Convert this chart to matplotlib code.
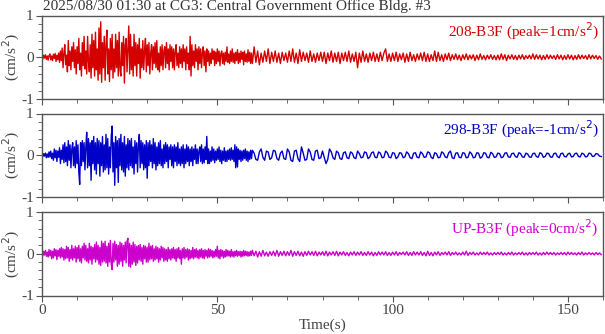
import matplotlib
matplotlib.use("Agg")
import matplotlib.pyplot as plt
import numpy as np

# sample steps of the traces (s): fine during the strong shaking, coarser after
dt_early = 0.25   # 0 - 60 s
dt_late = 0.5     # 60 - 160 s
t_split = 60

title = "2025/08/30 01:30 at CG3: Central Government Office Bldg. #3"
channels = ["208-B3F", "298-B3F", "UP-B3F"]
peaks = ["1", "-1", "0"]
colors = ["#d40000", "#0000c8", "#cc00cc"]

# acceleration (cm/s^2)
acc_208_early = [
    0.02, -0.04, 0.05, -0.02, 0.06, -0.05, 0.03, -0.07, 0.04, 0.08,
    -0.06, 0.03, -0.08, 0.07, -0.03, 0.09, -0.10, 0.05, -0.06, 0.10,
    -0.12, 0.15, -0.08, 0.22, -0.25, 0.10, 0.30, -0.18, 0.05, -0.35,
    0.40, -0.20, 0.15, -0.30, 0.25, -0.10, 0.35, -0.25, 0.18, -0.40,
    0.25, -0.15, 0.45, -0.30, 0.10, -0.45, 0.35, -0.20, 0.50, -0.28,
    0.15, -0.40, 0.50, -0.10, -0.35, 0.30, -0.50, 0.55, -0.25, 0.40,
    -0.45, 0.60, -0.30, 0.20, -0.55, 0.70, -0.40, 0.85, -0.60, 0.35,
    -0.25, 0.50, -0.55, 0.30, 0.65, -0.40, 0.20, -0.58, 0.45, -0.30,
    0.55, -0.50, 0.20, -0.35, 0.55, -0.25, 0.40, -0.45, 0.60, -0.30,
    -0.45, 0.35, -0.20, 0.50, -0.62, 0.30, 0.45, -0.35, 0.20, 0.75,
    -0.40, 0.55, -0.30, 0.25, -0.45, 0.55, -0.20, 0.35, -0.45, 0.30,
    -0.15, 0.45, -0.50, 0.20, -0.25, 0.40, -0.30, 0.15, 0.45, -0.35,
    0.30, -0.20, 0.35, -0.40, 0.10, 0.30, -0.30, 0.25, -0.15, 0.35,
    -0.25, 0.40, -0.30, 0.10, -0.35, 0.25, -0.20, 0.30, -0.30, 0.15,
    0.25, -0.25, 0.35, -0.15, 0.20, -0.30, 0.30, -0.10, 0.25, -0.25,
    0.20, -0.30, 0.15, 0.30, -0.20, 0.10, -0.25, 0.25, -0.15, 0.20,
    -0.25, 0.30, -0.10, 0.20, -0.30, 0.25, -0.15, 0.10, -0.30, 0.50,
    -0.45, 0.30, -0.20, 0.15, -0.25, 0.30, -0.10, 0.20, -0.30, 0.25,
    -0.15, 0.20, -0.25, 0.10, 0.25, -0.20, 0.15, -0.35, 0.20, -0.10,
    0.15, -0.20, 0.10, -0.15, 0.20, -0.05, 0.15, -0.20, 0.12, -0.15,
    0.20, -0.10, 0.15, -0.20, 0.08, 0.15, -0.15, 0.10, -0.18, 0.12,
    -0.10, 0.25, -0.12, 0.08, -0.15, 0.15, -0.10, 0.20, -0.12, 0.10,
    -0.15, 0.12, -0.08, 0.18, -0.15, 0.10, -0.12, 0.15, -0.05, 0.12,
    -0.18, 0.15, -0.10, 0.08, -0.12, 0.18, -0.10, 0.12, -0.15, 0.10,
]
acc_208_late = [
    -0.15, 0.25, -0.12, 0.15, -0.18, 0.10, -0.12, 0.15, -0.10, 0.20, -0.15, 0.12, -0.10, 0.15, -0.12, 0.10, -0.15, 0.12, -0.08, 0.10,
    -0.12, 0.15, -0.10, 0.20, -0.12, 0.10, -0.15, 0.18, -0.10, 0.12, -0.08, 0.10, -0.12, 0.15, -0.10, 0.08, -0.12, 0.10, -0.08, 0.12,
    -0.10, 0.12, -0.15, 0.10, -0.08, 0.15, -0.12, 0.10, -0.10, 0.12, -0.15, 0.10, -0.08, 0.12, -0.10, 0.15, -0.12, 0.08, -0.10, 0.12,
    -0.25, 0.10, -0.12, 0.15, -0.10, 0.08, -0.12, 0.10, -0.08, 0.12, -0.10, 0.08, -0.10, 0.12, -0.08, 0.10, 0.20, -0.10, 0.08, -0.10,
    0.10, -0.08, 0.12, -0.10, 0.08, -0.06, 0.10, -0.12, 0.08, -0.10, 0.12, -0.08, 0.06, -0.10, 0.08, -0.06, 0.10, -0.08, 0.12, -0.10,
    0.08, -0.10, 0.06, -0.08, 0.15, -0.10, 0.12, -0.08, 0.06, -0.10, 0.08, -0.06, 0.10, -0.08, 0.06, -0.05, 0.08, -0.06, 0.05, -0.08,
    0.06, -0.05, 0.08, -0.06, 0.05, -0.04, 0.06, -0.08, 0.05, -0.06, 0.08, -0.05, 0.04, -0.06, 0.05, -0.04, 0.06, -0.05, 0.04, -0.06,
    0.05, -0.06, 0.08, -0.05, 0.06, -0.08, 0.05, -0.04, 0.06, -0.05, 0.04, -0.06, 0.05, -0.04, 0.06, -0.05, 0.04, -0.03, 0.05, -0.04,
    0.08, -0.05, 0.06, -0.04, 0.05, -0.06, 0.04, -0.05, 0.06, -0.04, 0.05, -0.03, 0.04, -0.05, 0.06, -0.04, 0.05, -0.06, 0.04, -0.05,
    0.06, -0.04, 0.05, -0.06, 0.04, -0.05, 0.06, -0.04, 0.05, -0.03, 0.04, -0.05, 0.06, -0.04, 0.05, -0.03, 0.04, -0.05, 0.03, -0.04,
]

acc_298_early = [
    0.02, -0.03, 0.04, -0.02, 0.05, -0.06, 0.03, -0.05, 0.08, -0.04,
    0.10, -0.08, 0.05, -0.12, 0.15, -0.06, 0.12, -0.15, 0.10, -0.05,
    0.18, -0.20, 0.12, -0.10, 0.25, -0.18, 0.30, -0.15, 0.20, -0.25,
    0.35, -0.12, 0.25, -0.30, 0.15, 0.30, -0.25, 0.20, -0.30, 0.35,
    -0.20, 0.25, -0.40, -0.70, 0.30, -0.25, 0.35, -0.15, 0.30, -0.35,
    0.20, 0.55, -0.30, 0.40, -0.25, 0.30, -0.60, 0.35, -0.20, 0.45,
    -0.35, 0.30, -0.45, 0.40, -0.20, 0.35, -0.50, 0.30, -0.25, 0.45,
    -0.40, 0.25, -0.35, 0.50, -0.30, 0.40, -0.45, 0.20, -0.30, 0.45,
    0.70, -0.40, 0.30, -0.72, 0.45, -0.30, 0.35, -0.65, 0.40, -0.25,
    0.50, -0.35, 0.30, -0.40, 0.45, -0.50, 0.25, -0.30, 0.40, -0.35,
    0.35, -0.25, 0.40, -0.30, 0.20, -0.45, 0.35, -0.20, 0.30, -0.40,
    0.25, 0.50, -0.30, 0.35, -0.20, 0.30, -0.35, 0.25, -0.30, 0.35,
    -0.55, 0.30, -0.25, 0.35, -0.15, 0.25, -0.30, 0.40, -0.20, 0.30,
    -0.35, 0.20, -0.25, 0.30, -0.20, 0.35, -0.25, 0.15, -0.30, 0.25,
    -0.20, 0.30, -0.15, 0.25, -0.30, 0.20, -0.10, 0.25, -0.25, 0.20,
    -0.30, 0.25, -0.15, 0.20, -0.25, 0.30, -0.20, 0.15, -0.25, 0.20,
    -0.20, 0.25, -0.30, 0.15, -0.20, 0.25, -0.15, 0.20, -0.25, 0.15,
    -0.15, 0.20, -0.25, 0.15, -0.10, 0.25, -0.20, 0.15, -0.20, 0.10,
    0.20, -0.15, 0.25, -0.20, 0.15, -0.18, 0.20, -0.10, 0.45, -0.20,
    0.15, -0.20, 0.10, -0.15, 0.20, -0.12, 0.15, -0.18, 0.10, -0.12,
    0.15, -0.10, 0.20, -0.15, 0.12, -0.20, 0.10, -0.12, 0.18, -0.15,
    0.10, -0.15, 0.12, -0.10, 0.15, -0.12, 0.18, -0.10, 0.12, -0.15,
    0.25, -0.30, 0.20, -0.28, 0.15, -0.10, 0.12, -0.15, 0.10, -0.12,
    0.12, -0.08, 0.15, -0.12, 0.10, -0.15, 0.08, -0.10, 0.12, -0.08,
]
acc_298_late = [
    0.12, 0.05, -0.10, -0.12, 0.08, 0.15, -0.05, -0.12, 0.10, 0.08, -0.10, -0.06, 0.12, 0.10, -0.08, -0.12, 0.05, 0.10, -0.08, -0.10,
    0.15, 0.08, -0.12, -0.15, 0.10, 0.12, -0.08, -0.15, 0.20, 0.05, -0.12, -0.10, 0.15, 0.08, -0.10, -0.12, 0.10, 0.12, -0.08, -0.06,
    0.10, -0.05, -0.20, -0.10, 0.15, 0.08, -0.06, -0.10, 0.10, 0.06, -0.08, -0.10, 0.06, 0.08, -0.06, -0.08, 0.08, 0.05, -0.06, -0.08,
    0.10, 0.04, -0.06, -0.05, 0.08, 0.06, -0.08, -0.04, 0.06, 0.08, -0.05, -0.06, 0.08, 0.05, -0.06, -0.05, 0.10, 0.06, -0.05, -0.06,
    0.06, 0.05, -0.08, -0.04, 0.06, 0.05, -0.06, -0.04, 0.08, 0.04, -0.06, -0.08, 0.05, 0.06, -0.05, -0.06, 0.08, 0.04, -0.05, -0.04,
    0.08, 0.06, -0.05, -0.08, 0.06, 0.04, -0.06, -0.05, 0.08, 0.05, -0.04, -0.06, 0.06, 0.10, -0.06, -0.08, 0.05, 0.06, -0.05, -0.06,
    0.06, 0.05, -0.06, -0.05, 0.08, 0.04, -0.06, -0.05, 0.06, 0.05, -0.07, -0.04, 0.06, 0.05, -0.05, -0.06, 0.07, 0.04, -0.05, -0.04,
    0.05, 0.04, -0.06, -0.04, 0.05, 0.06, -0.04, -0.05, 0.04, 0.05, -0.03, -0.05, 0.06, 0.04, -0.04, -0.05, 0.05, 0.03, -0.04, -0.05,
    0.04, 0.05, -0.03, -0.05, 0.06, 0.04, -0.05, -0.03, 0.05, 0.04, -0.04, -0.05, 0.04, 0.05, -0.03, -0.06, 0.04, 0.05, -0.03, -0.04,
    0.03, 0.05, -0.04, -0.03, 0.04, 0.05, -0.03, -0.04, 0.05, 0.03, -0.04, -0.03, 0.05, 0.04, -0.03, -0.02, 0.04, 0.03, -0.02, -0.03,
]

acc_up_early = [
    0.03, -0.05, 0.06, -0.03, 0.08, -0.06, 0.04, -0.08, 0.10, -0.05,
    0.08, -0.12, 0.06, -0.10, 0.12, -0.05, 0.10, -0.14, 0.08, -0.06,
    0.12, -0.10, 0.15, -0.08, 0.12, -0.15, 0.10, -0.12, 0.18, -0.10,
    0.15, -0.18, 0.10, -0.12, 0.20, -0.15, 0.12, -0.10, 0.18, -0.20,
    0.15, -0.12, 0.20, -0.18, 0.12, -0.22, 0.18, -0.10, 0.25, -0.15,
    0.20, -0.18, 0.12, -0.22, 0.25, -0.15, 0.18, -0.25, 0.15, -0.12,
    0.22, -0.20, 0.28, -0.15, 0.20, -0.25, 0.15, -0.28, 0.30, -0.20,
    0.25, -0.18, 0.30, -0.22, 0.18, -0.30, 0.25, -0.20, 0.32, -0.25,
    -0.38, 0.25, -0.20, 0.30, -0.15, 0.22, -0.30, 0.20, -0.25, 0.28,
    -0.18, 0.25, -0.30, 0.20, -0.15, 0.28, -0.22, 0.30, 0.37, -0.30,
    0.25, -0.32, 0.20, -0.25, 0.28, -0.20, 0.22, -0.28, 0.18, -0.22,
    0.20, -0.15, 0.22, -0.18, 0.15, -0.25, 0.20, -0.12, 0.18, -0.20,
    0.15, -0.20, 0.25, -0.15, 0.18, -0.12, 0.20, -0.18, 0.12, -0.15,
    0.18, -0.12, 0.15, -0.20, 0.12, -0.15, 0.18, -0.10, 0.15, -0.18,
    0.12, -0.15, 0.10, -0.18, 0.15, -0.12, 0.10, -0.15, 0.12, -0.10,
    0.15, -0.12, 0.10, -0.18, 0.12, -0.10, 0.15, -0.12, 0.08, -0.25,
    0.12, -0.10, 0.15, -0.12, 0.10, -0.08, 0.12, -0.15, 0.10, -0.12,
    0.08, -0.10, 0.15, -0.12, 0.10, -0.08, 0.12, -0.10, 0.08, -0.12,
    0.10, -0.08, 0.12, -0.10, 0.08, -0.12, 0.10, -0.06, 0.08, -0.10,
    0.12, -0.08, 0.10, -0.06, 0.08, -0.10, 0.06, -0.08, 0.10, -0.06,
    0.18, -0.10, 0.08, -0.12, 0.10, -0.06, 0.08, -0.10, 0.06, -0.08,
    0.10, -0.06, 0.08, -0.05, 0.06, -0.08, 0.10, -0.06, 0.05, -0.08,
    0.06, -0.05, 0.08, -0.06, 0.05, -0.04, 0.06, -0.08, 0.05, -0.06,
    0.08, -0.05, 0.06, -0.04, 0.05, -0.06, 0.04, -0.05, 0.06, -0.04,
]
acc_up_late = [
    0.08, -0.05, 0.06, -0.08, 0.05, -0.06, 0.08, -0.05, 0.04, -0.06, 0.05, -0.04, 0.06, -0.05, 0.08, -0.06, 0.05, -0.04, 0.06, -0.05,
    0.05, -0.04, 0.08, -0.06, 0.05, -0.04, 0.06, -0.05, 0.04, -0.06, 0.05, -0.04, 0.06, -0.03, 0.05, -0.04, 0.06, -0.05, 0.04, -0.03,
    0.05, -0.04, 0.06, -0.05, 0.04, -0.03, 0.05, -0.04, 0.06, -0.05, 0.04, -0.03, 0.05, -0.04, 0.03, -0.05, 0.04, -0.03, 0.05, -0.04,
    0.04, -0.03, 0.05, -0.04, 0.03, -0.04, 0.05, -0.03, 0.04, -0.05, 0.03, -0.04, 0.05, -0.03, 0.04, -0.03, 0.05, -0.04, 0.03, -0.04,
    0.04, -0.03, 0.05, -0.04, 0.03, -0.02, 0.04, -0.03, 0.05, -0.04, 0.03, -0.04, 0.05, -0.03, 0.04, -0.03, 0.05, -0.04, 0.03, -0.05,
    0.06, -0.04, 0.03, -0.05, 0.04, -0.03, 0.05, -0.04, 0.03, -0.02, 0.04, -0.03, 0.05, -0.04, 0.03, -0.02, 0.04, -0.03, 0.02, -0.03,
    0.04, -0.03, 0.06, -0.04, 0.03, -0.02, 0.04, -0.03, 0.02, -0.03, 0.04, -0.02, 0.03, -0.02, 0.04, -0.03, 0.02, -0.03, 0.03, -0.02,
    0.03, -0.02, 0.04, -0.03, 0.02, -0.03, 0.03, -0.02, 0.04, -0.03, 0.02, -0.02, 0.03, -0.02, 0.04, -0.03, 0.02, -0.03, 0.03, -0.02,
    0.03, -0.02, 0.04, -0.03, 0.02, -0.03, 0.03, -0.02, 0.04, -0.02, 0.03, -0.02, 0.03, -0.03, 0.02, -0.02, 0.03, -0.02, 0.03, -0.03,
    0.04, -0.02, 0.03, -0.02, 0.02, -0.03, 0.03, -0.02, 0.04, -0.03, 0.02, -0.02, 0.03, -0.02, 0.02, -0.03, 0.03, -0.02, 0.02, -0.02,
]

traces = [(acc_208_early, acc_208_late), (acc_298_early, acc_298_late), (acc_up_early, acc_up_late)]

plt.rcParams['font.family'] = ['Liberation Serif', 'DejaVu Serif']

W, H = 605, 334
fig = plt.figure(figsize=(W / 100, H / 100), dpi=100)

gray = '#555555'
fs = 11
tops = [15.5, 113.5, 212]
for i in range(3):
    top, bot = tops[i], tops[i] + 83.5
    ax = fig.add_axes([42 / W, 1 - bot / H, 561 / W, (bot - top) / H])
    early, late = traces[i]
    t = np.concatenate([np.arange(len(early)) * dt_early,
                        t_split + np.arange(len(late)) * dt_late])
    y = np.concatenate([early, late])
    ax.plot(t, y, color=colors[i], lw=1.0)

    ax.set_xlim(0, 160)
    ax.set_ylim(-1, 1)
    ax.set_xticks([0, 50, 100, 150])
    ax.set_xticks(np.arange(0, 161, 10), minor=True)
    ax.set_yticks([-1, 0, 1])
    ax.set_yticks(np.arange(-1, 1.01, 0.2), minor=True)
    ax.set_yticklabels(['-1', '0', '1'])
    ax.tick_params(which='both', direction='out', colors=gray, labelcolor='#444444',
                   labelsize=fs, pad=2)
    ax.tick_params(which='major', length=4)
    ax.tick_params(which='minor', length=3)
    for s in ax.spines.values():
        s.set_color(gray)
        s.set_linewidth(1.0)
    if i < 2:
        ax.tick_params(labelbottom=False)
    else:
        ax.set_xlabel('Time(s)', color='#444444', fontsize=fs, labelpad=1)
    ax.set_ylabel('(cm/s$^2$)', color='#444444', fontsize=fs, va='center')
    ax.yaxis.set_label_coords(-31 / 561, 0.5)

    ax.text(0.992, 0.93, channels[i] + ' (peak=' + peaks[i] + 'cm/s$^2$)',
            transform=ax.transAxes, ha='right', va='top', color=colors[i], fontsize=fs)

fig.text(43 / W, 1 - 6 / H, title, ha='left', va='center', color='#333333', fontsize=fs)

fig.savefig('out.png', dpi=100)
